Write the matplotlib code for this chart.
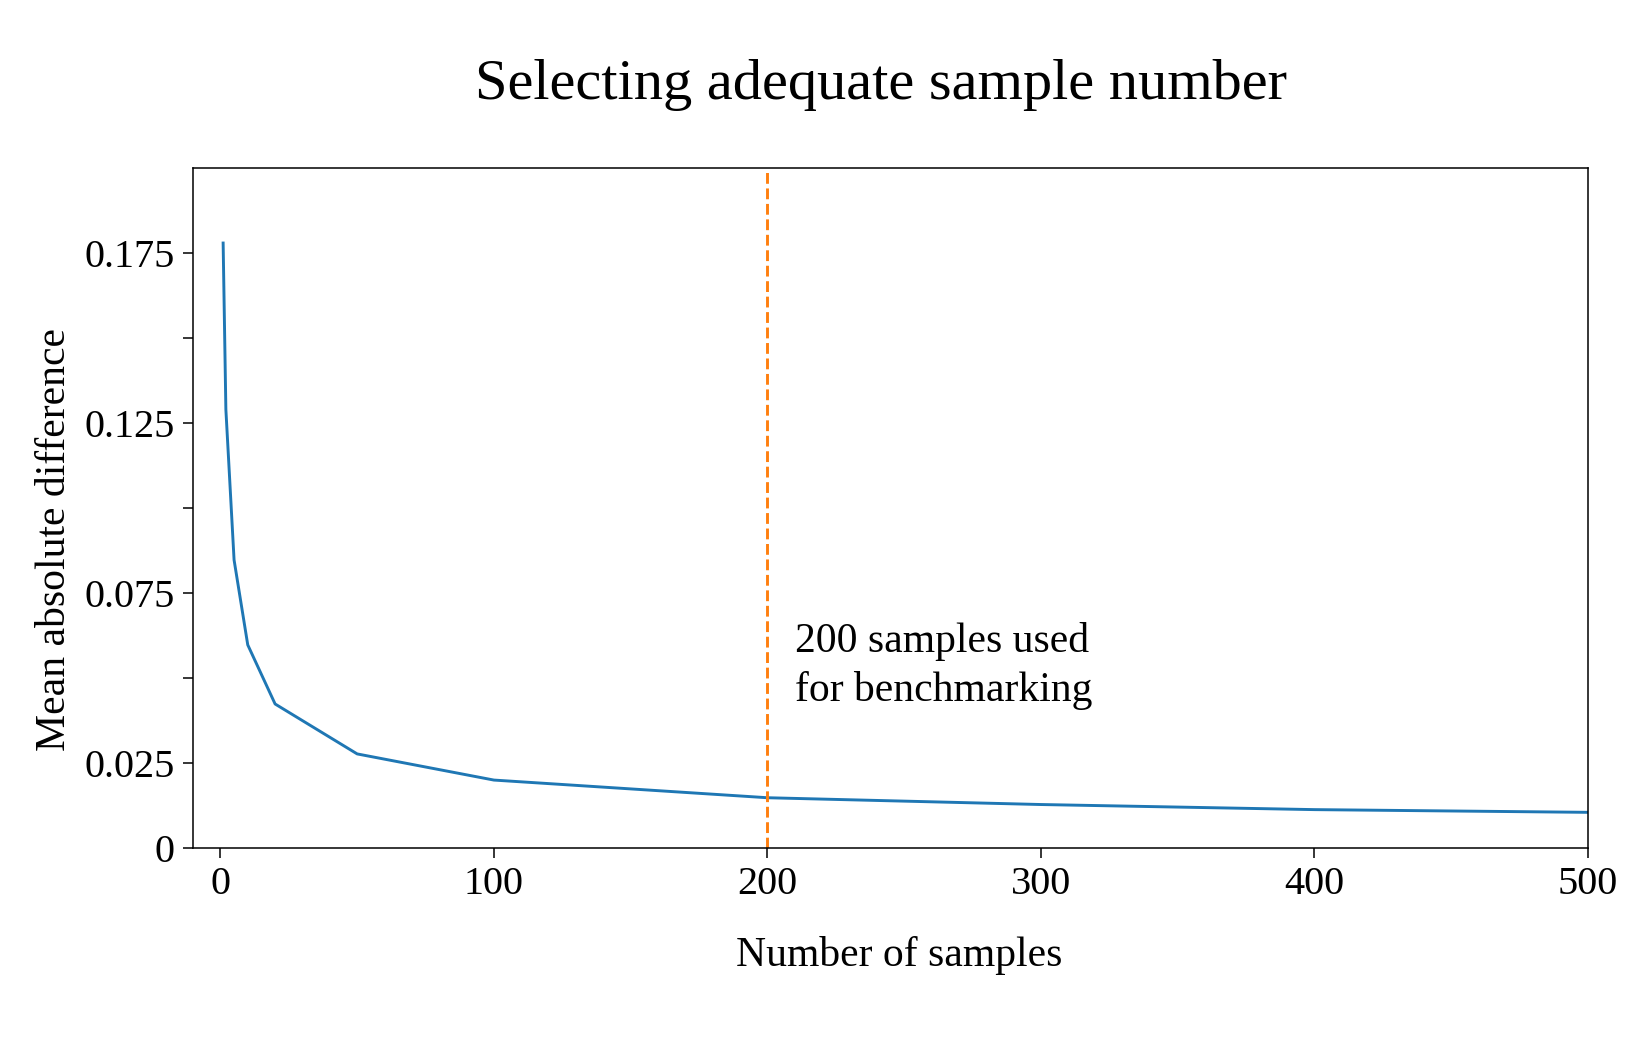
import numpy as np
from matplotlib import pyplot as plt

# sample counts and the mean absolute difference for each
n_samples = [1, 2, 5, 10, 20, 50, 100, 200, 300, 400, 500]
mean_abs_diff = [0.178, 0.129, 0.0847, 0.0597, 0.0423, 0.0276, 0.0199,
                 0.0147, 0.0127, 0.0112, 0.0104]

chosen = 200
y_ticks = [0, 0.025, 0.05, 0.075, 0.1, 0.125, 0.15, 0.175]
y_tick_labels = ['0', '0.025', '', '0.075', '', '0.125', '', '0.175']
x_ticks = [0, 100, 200, 300, 400, 500]

plt.rcParams['font.family'] = ['Liberation Serif', 'DejaVu Serif']
plt.rcParams['mathtext.fontset'] = 'stix'


def draw_sample_selection():
    fig = plt.figure(figsize=(16.5, 10.5), dpi=100)
    ax = fig.add_axes([0.117, 0.1927, 0.8454, 0.647])

    ax.plot(n_samples, mean_abs_diff, color='tab:blue', lw=2.1)
    ax.axvline(chosen, color='tab:orange', ls='--', lw=2.1)
    ax.text(chosen + 10, 0.0535, '200 samples used\nfor benchmarking',
            fontsize=30, va='center', ha='left', linespacing=1.35)

    ax.set_xlim(-10, 500)
    ax.set_ylim(0, 0.2)
    ax.set_xticks(x_ticks)
    ax.set_yticks(y_ticks)
    ax.set_yticklabels(y_tick_labels)
    ax.tick_params(labelsize=29, length=7, width=1.1, pad=6)
    for spine in ax.spines.values():
        spine.set_linewidth(1.1)

    ax.set_xlabel('Number of samples', fontsize=30, labelpad=24)
    ax.set_ylabel('Mean absolute difference', fontsize=30, labelpad=8)
    # labels in the original sit slightly off centre
    ax.xaxis.label.set_x(0.506)
    ax.yaxis.label.set_y(0.454)
    ax.set_title('Selecting adequate sample number', fontsize=42, pad=50,
                 x=0.493)

    fig.savefig('out.png', dpi=100)


draw_sample_selection()
